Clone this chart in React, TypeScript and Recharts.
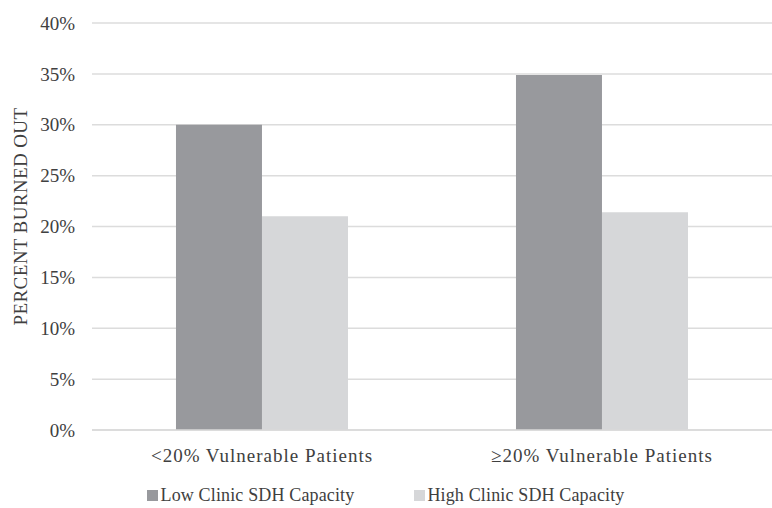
import { Bar, BarChart, CartesianGrid, Legend, XAxis, YAxis } from "recharts";

const CATEGORIES = ["<20% Vulnerable Patients", "\u226520% Vulnerable Patients"];
const LOW_CAPACITY = [30, 34.9];
const HIGH_CAPACITY = [21, 21.4];
const Y_TICKS = [0, 5, 10, 15, 20, 25, 30, 35, 40];

const SERIES = [
  { key: "low", name: "Low Clinic SDH Capacity", color: "#98999d" },
  { key: "high", name: "High Clinic SDH Capacity", color: "#d6d7d9" },
];

const FONT = "'Liberation Serif', 'Times New Roman', serif";
const TEXT = "#404040";

const data = CATEGORIES.map((name, i) => ({
  name,
  low: LOW_CAPACITY[i],
  high: HIGH_CAPACITY[i],
}));

// fixed order, recharts would sort the payload by name
function SwatchLegend() {
  return (
    <div
      style={{
        display: "flex",
        justifyContent: "center",
        gap: 60,
        paddingTop: 11,
        fontFamily: FONT,
        fontSize: 18,
        letterSpacing: 0.15,
        color: TEXT,
      }}
    >
      {SERIES.map((s) => (
        <span key={s.key} style={{ display: "flex", alignItems: "center", gap: 2 }}>
          <span style={{ width: 11, height: 11, backgroundColor: s.color, display: "inline-block" }} />
          {s.name}
        </span>
      ))}
    </div>
  );
}

function YTitle({ viewBox }: { viewBox?: { x: number; y: number; width: number; height: number } }) {
  if (!viewBox) return null;
  const cx = viewBox.x + 20;
  const cy = viewBox.y + viewBox.height / 2 - 10;
  return (
    <text
      x={cx}
      y={cy}
      transform={`rotate(-90, ${cx}, ${cy})`}
      textAnchor="middle"
      dominantBaseline="central"
      fill={TEXT}
      fontFamily={FONT}
      fontSize={19}
      letterSpacing={0.4}
    >
      PERCENT BURNED OUT
    </text>
  );
}

export default function App() {
  return (
    <div style={{ position: "absolute", left: 0, top: 0, background: "#fff" }}>
      <BarChart
        width={772}
        height={508}
        data={data}
        margin={{ top: 23, right: 0, bottom: 0, left: 0 }}
        barCategoryGap="24.7%"
        barGap={0}
      >
        <CartesianGrid vertical={false} stroke="#dcdcdc" strokeWidth={1.5} />
        <XAxis
          dataKey="name"
          tickLine={false}
          axisLine={{ stroke: "#d9d9d9", strokeWidth: 1.5 }}
          tick={{ fill: TEXT, fontFamily: FONT, fontSize: 19, letterSpacing: 1 }}
          tickMargin={13}
          height={44}
        />
        <YAxis
          width={92}
          domain={[0, 40]}
          ticks={Y_TICKS}
          interval={0}
          tickFormatter={(v) => `${v}%`}
          tickLine={false}
          axisLine={false}
          tickMargin={11}
          tick={{ fill: TEXT, fontFamily: FONT, fontSize: 19 }}
          label={{ content: <YTitle /> }}
        />
        <Legend verticalAlign="bottom" height={34} content={<SwatchLegend />} />
        {SERIES.map((s) => (
          <Bar key={s.key} dataKey={s.key} name={s.name} fill={s.color} isAnimationActive={false} />
        ))}
      </BarChart>
    </div>
  );
}
